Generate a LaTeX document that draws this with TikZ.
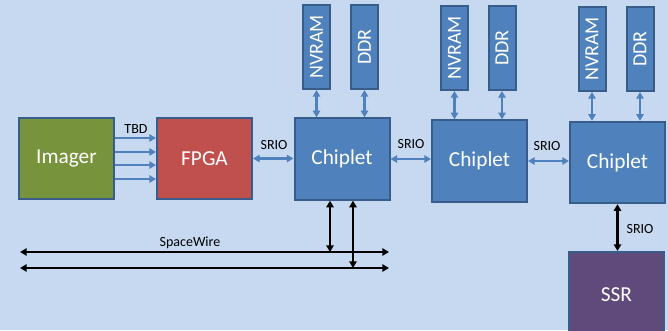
\documentclass[tikz,border=0pt]{standalone}
\usepackage{fontspec}
\setmainfont{Carlito}
\usepackage{tikz}
\usetikzlibrary{arrows.meta,calc}
\definecolor{slide}{HTML}{C6D9F1}
\definecolor{edge}{HTML}{385D8A}
\definecolor{chipblue}{HTML}{4F81BD}
\definecolor{imgreen}{HTML}{77933C}
\definecolor{fpgared}{HTML}{C0504D}
\definecolor{ssrpurple}{HTML}{604A7B}
\tikzstyle{block}     = [draw=edge, line width=1.5pt, minimum width=71.25pt, minimum height=61pt, inner sep=0pt, text=white, font=\fontsize{16}{19}\selectfont]
\tikzstyle{mem}       = [block, fill=chipblue, minimum width=20.25pt, minimum height=63pt, font=\fontsize{15}{18}\selectfont]
\tikzstyle{link}      = [line width=1.8pt, draw=chipblue, {Triangle[length=5pt,width=5.5pt]}-{Triangle[length=5pt,width=5.5pt]}]
\tikzstyle{feed}      = [line width=1.8pt, draw=chipblue, -{Triangle[length=5pt,width=5.5pt]}]
\tikzstyle{bus}       = [line width=1.8pt, draw=black, {Triangle[length=5pt,width=5.5pt]}-{Triangle[length=5pt,width=5.5pt]}]
\tikzstyle{tag}       = [inner sep=0pt, font=\fontsize{10.5}{12}\selectfont]

\begin{document}
\begin{tikzpicture}[x=0.75pt,y=-0.75pt]
		\useasboundingbox (0,0) rectangle (668,330);
		\clip (0,0) rectangle (668,330);
		\fill[slide] (0,0) rectangle (668,330);

		% main chain
		\node[block, fill=imgreen] (imager) at (66.5,158.5) {Imager};
		\node[block, fill=fpgared] (fpga) at (204.5,158.5) {FPGA};
		\node[block, fill=chipblue] (chip1) at (342,159) {Chiplet};
		\node[block, fill=chipblue] (chip2) at (479.5,161) {Chiplet};
		\node[block, fill=chipblue] (chip3) at (617.5,162.5) {Chiplet};
		\node[block, fill=ssrpurple, minimum height=64.5pt] (ssr) at (616.5,295) {SSR};

		% imager lanes
		\foreach \dy in {15.4,4.9,-4.9,-15.4}
			\draw[feed] ([yshift=\dy pt]imager.east) -- ([yshift=\dy pt]fpga.west);
		\node[tag] (tbd) at (136,129) {TBD};

		% memories over each chiplet
		\foreach \c/\nx/\dx/\y in {1/316.5/364.5/47, 2/454.5/502/48, 3/592/640/49} {
			\node[mem] (nv\c) at (\nx,\y) {\rotatebox{90}{NVRAM}};
			\node[mem] (ddr\c) at (\dx,\y) {\rotatebox{90}{DDR}};
			\draw[link] (nv\c.south) -- (nv\c.south |- chip\c.north);
			\draw[link] (ddr\c.south) -- (ddr\c.south |- chip\c.north);
		}

		% SRIO links
		\draw[link] (fpga.east) -- (fpga.east -| chip1.west);
		\draw[link] (chip1.east) -- (chip1.east -| chip2.west);
		\draw[link] (chip2.east) -- (chip2.east -| chip3.west);
		\node[tag] (srio1) at (274,145) {SRIO};
		\node[tag] (srio2) at (411,144) {SRIO};
		\node[tag] (srio3) at (547,146) {SRIO};

		\draw[bus] (chip3.south) -- (chip3.south |- ssr.north);
		\node[tag] (srio4) at (640,229) {SRIO};

		% spacewire
		\coordinate (swa) at (20,252);
		\coordinate (swb) at (389,252);
		\coordinate (swc) at (20,268);
		\coordinate (swd) at (389,268);
		\coordinate (tap1) at (330,252);
		\coordinate (tap2) at (353,268);
		\draw[bus] (swa) -- (swb);
		\draw[bus] (swc) -- (swd);
		\draw[bus] (chip1.south -| tap1) -- (tap1);
		\draw[bus] (chip1.south -| tap2) -- (tap2);
		\node[tag] (sw) at (190,243) {SpaceWire};
	\end{tikzpicture}
\end{document}
